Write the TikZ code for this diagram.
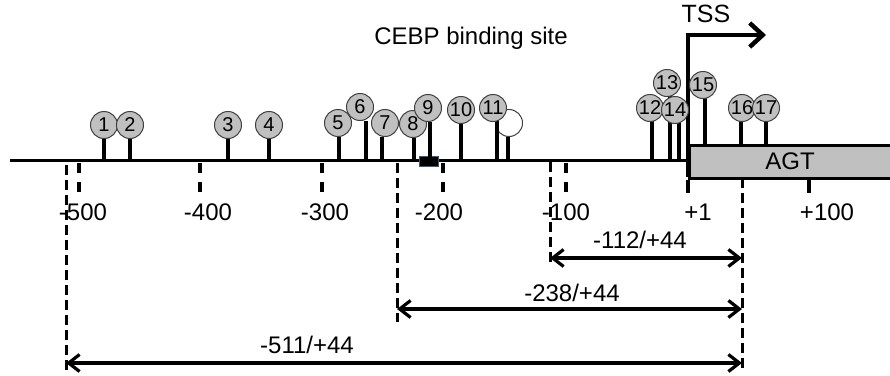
\documentclass[tikz,border=0pt]{standalone}
\usepackage{fontspec}
\setmainfont{Liberation Sans}
\usetikzlibrary{arrows.meta,positioning}
\definecolor{sitegray}{RGB}{192,192,192}
\definecolor{cebpedge}{RGB}{60,90,120}

\begin{document}
\begin{tikzpicture}[x=1pt, y=-1pt,
  site/.style={circle, draw=black!75, line width=1pt, fill=sitegray, minimum size=27pt,
    inner sep=0pt, font=\fontsize{20}{20}\selectfont},
  freesite/.style={site, fill=white},
  stem/.style={line width=3.2pt},
  ruler/.style={line width=3.5pt, dash pattern=on 10pt off 9pt},
  guide/.style={line width=3pt, dash pattern=on 10pt off 5pt},
  span/.style={{Straight Barb[length=11pt,width=17pt]}-{Straight Barb[length=11pt,width=17pt]},
    line width=3.2pt},
  label/.style={font=\fontsize{24}{24}\selectfont, inner sep=0pt}
]
\useasboundingbox (0,0) rectangle (890,375);

% Promoter line and gene
\coordinate (lineL) at (10,160);
\coordinate (lineR) at (688,160);
\draw[line width=3pt] (lineL) -- (lineR);
\node[draw, line width=3pt, fill=sitegray, anchor=north west,
  minimum width=220pt, minimum height=33pt, inner sep=0pt] (agt) at (688,144) {};
\node[label] (agttext) at (790,161) {AGT};

% Transcription start
\coordinate (tssfoot) at (688,177);
\coordinate (tsstop) at (688,35);
\coordinate (tsshead) at (766,35);
\draw[line width=4.5pt, -{Straight Barb[length=13pt,width=24pt]}] (tssfoot) -- (tsstop) -- (tsshead);
\node[label, font=\fontsize{25}{25}\selectfont] (tss) at (706,14) {TSS};

% CEBP binding site
\node[label] (cebptext) at (471,38) {CEBP binding site};
\node[draw=cebpedge, fill=black, line width=1pt, minimum width=19pt,
  minimum height=10pt, inner sep=0pt] (cebp) at (428.5,161) {};

% Scale
\foreach \v/\x/\lx in {-500/79/83, -400/200/208, -300/322/325, -200/443/439, -100/566/566}{
  \draw[ruler] (\x,163) -- (\x,193);
  \node[label] (t\v) at (\lx,212) {\v};
}
\draw[line width=3.5pt] (688,180) -- (688,193);
\draw[line width=3.5pt] (809,180) -- (809,193);
\node[label] (tp1) at (698,212) {+1};
\node[label] (tp100) at (827,212) {+100};

% Sites
\foreach \n/\x/\y/\sx/\b in {1/104/125/104/160, 2/130/125/130/160, 3/228/125/228/160,
    4/269/125/269/160, 5/338/123/339/160, 6/360/107/366/160, 7/385/123/382/160,
    8/413/124/414/160, 9/428/108/430/160, 10/461/110/461/160}{
  \coordinate (b\n) at (\sx,\b);
  \node[site] (s\n) at (\x,\y) {\n};
  \draw[stem] (b\n) -- (b\n |- s\n.south);
}
\coordinate (bw) at (508,160);
\node[freesite] (sw) at (509,123) {};
\draw[stem] (bw) -- (bw |- sw.south);
\foreach \n/\x/\y/\sx/\b in {11/493/108/497/160, 12/650/108/652/160, 13/667/83/670/160,
    14/675/110/679/160, 15/703/85/705/144, 16/742/108/741/144, 17/766/108/766/144}{
  \coordinate (b\n) at (\sx,\b);
  \draw[stem] (b\n) -- (b\n |- 0,{\y+12});
  \node[site] (s\n) at (\x,\y) {\n};
}

% Fragments
\coordinate (g1top) at (66,165);   \coordinate (g1bot) at (66,372);
\coordinate (g2top) at (397,163);  \coordinate (g2bot) at (397,322);
\coordinate (g3top) at (550,162);  \coordinate (g3bot) at (550,266);
\coordinate (g4top) at (742,178);  \coordinate (g4bot) at (742,372);
\draw[guide] (g1top) -- (g1bot);
\draw[guide] (g2top) -- (g2bot);
\draw[guide] (g3top) -- (g3bot);
\draw[guide] (g4top) -- (g4bot);
\draw[span] (g3top |- 0,258) coordinate (a112) -- (g4top |- 0,258);
\draw[span] (g2top |- 0,309) coordinate (a238) -- (g4top |- 0,309);
\draw[span] (g1top |- 0,363) coordinate (a511) -- (g4top |- 0,363);
\node[label] (l112) at (640,240) {-112/+44};
\node[label] (l238) at (572,293) {-238/+44};
\node[label] (l511) at (307,345) {-511/+44};

\end{tikzpicture}
\end{document}
